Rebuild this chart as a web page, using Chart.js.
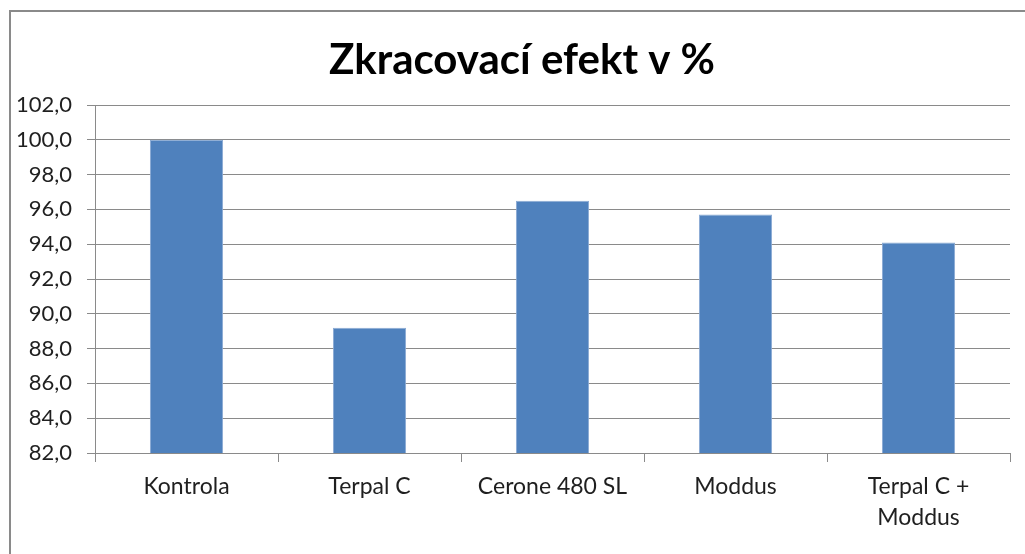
<!DOCTYPE html>
<html>
<head>
<meta charset="utf-8">
<script src="https://cdn.jsdelivr.net/npm/chart.js@4/dist/chart.umd.min.js"></script>
<style>
html,body{margin:0;padding:0;background:#fff;}
#wrap{width:1025px;height:554px;}
</style>
</head>
<body>
<div id="wrap"><canvas id="c" width="1025" height="554"></canvas></div>
<script>
const chartTitle = "Zkracovací efekt v %";
const categories = ["Kontrola", "Terpal C", "Cerone 480 SL", "Moddus", ["Terpal C +", "Moddus"]];
const values = [100.0, 89.2, 96.5, 95.7, 94.1];
const yMin = 82, yMax = 102, yStep = 2;

const FONT = "Lato, 'Open Sans', sans-serif";

const framePlugin = {
  id: 'frame',
  beforeDraw(chart) {
    const ctx = chart.ctx;
    ctx.save();
    ctx.fillStyle = '#ffffff';
    ctx.fillRect(0, 0, chart.width, chart.height);
    ctx.strokeStyle = '#8a8a8a';
    ctx.lineWidth = 2;
    ctx.beginPath();
    ctx.moveTo(10, chart.height);
    ctx.lineTo(10, 11);
    ctx.lineTo(chart.width, 11);
    ctx.stroke();
    ctx.restore();
  },
  afterDraw(chart) {
    const ctx = chart.ctx;
    ctx.save();
    ctx.fillStyle = '#000';
    ctx.font = "bold 42px " + FONT;
    ctx.textAlign = 'center';
    ctx.textBaseline = 'middle';
    ctx.fillText(chartTitle, 522, 60);
    ctx.restore();
  }
};

new Chart(document.getElementById('c'), {
  type: 'bar',
  data: {
    labels: categories,
    datasets: [{
      data: values,
      backgroundColor: '#4f81bd',
      borderColor: '#8aaad4',
      borderWidth: 1,
      barPercentage: 0.4,
      categoryPercentage: 1.0
    }]
  },
  options: {
    responsive: false,
    animation: false,
    layout: { padding: { top: 105, left: 0, right: 15, bottom: 0 } },
    plugins: { legend: { display: false }, title: { display: false }, tooltip: { enabled: false } },
    scales: {
      x: {
        grid: { offset: true, drawOnChartArea: false, drawTicks: true, tickLength: 9, color: '#8a8a8a' },
        border: { display: true, color: '#8a8a8a', width: 1 },
        ticks: { color: '#1f1f1f', font: { family: FONT, size: 23, lineHeight: 1.35 }, padding: 9, maxRotation: 0, autoSkip: false },
        afterFit(scale) { scale.height = 101; }
      },
      y: {
        min: yMin, max: yMax,
        grid: { color: '#8a8a8a', tickLength: 8, drawTicks: true },
        border: { display: true, color: '#8a8a8a', width: 1 },
        ticks: {
          stepSize: yStep,
          color: '#1f1f1f',
          font: { family: FONT, size: 22 },
          padding: 15,
          callback: (v) => Number(v).toFixed(1).replace('.', ',')
        },
        afterFit(scale) { scale.width = 95; }
      }
    }
  },
  plugins: [framePlugin]
});
</script>
</body>
</html>
